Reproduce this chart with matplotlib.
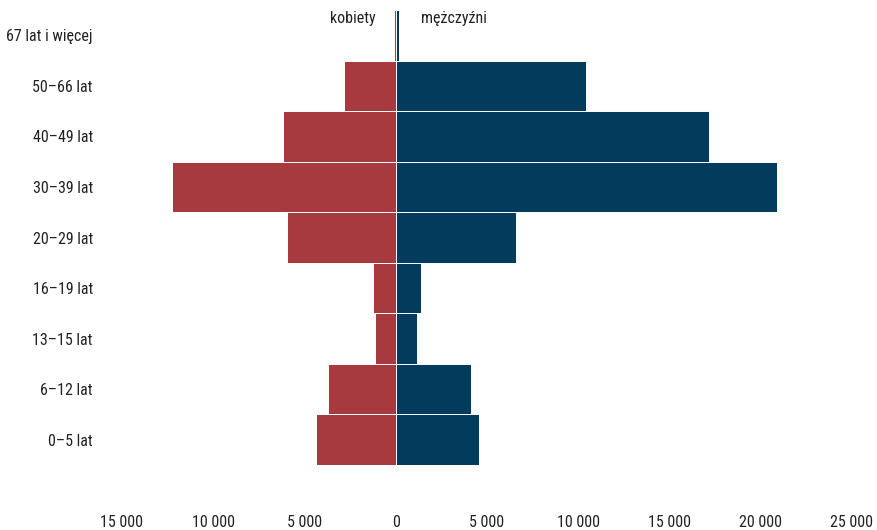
"""Population pyramid: kobiety / mężczyźni by age group."""
import matplotlib.pyplot as plt
from matplotlib import font_manager
import numpy as np

age_groups = ['0–5 lat', '6–12 lat', '13–15 lat', '16–19 lat', '20–29 lat',
              '30–39 lat', '40–49 lat', '50–66 lat', '67 lat i więcej']
women = [4360, 3720, 1160, 1270, 5950, 12250, 6160, 2860, 70]
men = [4560, 4140, 1140, 1360, 6600, 20900, 17180, 10440, 200]
xticks = [-15000, -10000, -5000, 0, 5000, 10000, 15000, 20000, 25000]

# pick a narrow face if one is installed
names = {f.name for f in font_manager.fontManager.ttflist}
narrow = [n for n in ('Roboto Condensed', 'Liberation Sans Narrow', 'Open Sans Condensed',
                      'Noto Sans Condensed', 'DejaVu Sans Condensed') if n in names]
stretch = 'normal'
if not narrow:
    narrow = ['DejaVu Sans']
    stretch = 'condensed'
plt.rcParams['font.family'] = [narrow[0], 'DejaVu Sans']
plt.rcParams['font.stretch'] = stretch

c_women = '#A63A3F'
c_men = '#023B5B'

fig = plt.figure(figsize=(8.77, 5.30), dpi=100)
ax = fig.add_axes([122/877, 65/530, 730/877, 455/530])

y = np.arange(len(age_groups))
ax.barh(y, [-w for w in women], height=1.0, color=c_women, edgecolor='white', linewidth=0.7)
ax.barh(y, men, height=1.0, color=c_men, edgecolor='white', linewidth=0.7)

ax.set_xlim(-15000, 25000)
ax.set_ylim(-0.5, len(age_groups) - 0.5)
ax.set_yticks(y)
ax.set_yticklabels(age_groups, fontsize=11.5, color='#222')
ax.set_xticks(xticks)
ax.set_xticklabels([f'{abs(v):,}'.replace(',', ' ') for v in xticks], fontsize=11.5, color='#222')
ax.tick_params(axis='x', length=0, pad=36)
ax.tick_params(axis='y', length=0, pad=21)
for s in ax.spines.values():
    s.set_visible(False)

ax.text(-1100, 8.33, 'kobiety', ha='right', va='center', fontsize=11.5, color='#222')
ax.text(1400, 8.33, 'mężczyźni', ha='left', va='center', fontsize=11.5, color='#222')

fig.savefig('out.png', dpi=100)
